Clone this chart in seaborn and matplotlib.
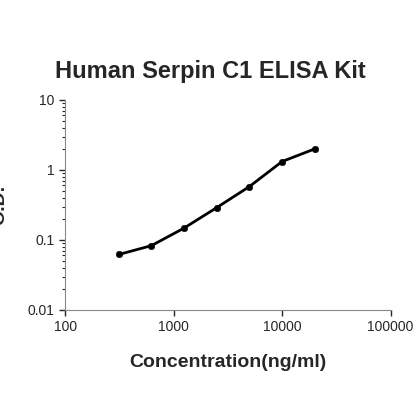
import matplotlib
matplotlib.use("Agg")
import matplotlib.pyplot as plt
import seaborn as sns
import pandas as pd
from matplotlib.ticker import LogLocator, FixedLocator, NullFormatter

sns.set_style("white")
plt.rcParams["font.family"] = ["Liberation Sans", "DejaVu Sans"]

# Standard curve values
conc = [312.5, 625, 1250, 2500, 5000, 10000, 20000]
od = [0.062, 0.083, 0.148, 0.29, 0.58, 1.32, 2.0]
df = pd.DataFrame({"conc": conc, "od": od})

fig = plt.figure(figsize=(4.2, 4.2), dpi=100)
ax = fig.add_axes([0.155, 0.262, 0.775, 0.5])

sns.lineplot(data=df, x="conc", y="od", ax=ax, color="black", linewidth=2)
sns.scatterplot(data=df, x="conc", y="od", ax=ax, color="black", s=22, edgecolor="black")

ax.set_xscale("log")
ax.set_yscale("log")
ax.set_xlim(100, 100000)
ax.set_ylim(0.01, 10)
ax.xaxis.set_major_locator(FixedLocator([100, 1000, 10000, 100000]))
ax.set_xticklabels(["100", "1000", "10000", "100000"])
ax.yaxis.set_major_locator(FixedLocator([0.01, 0.1, 1, 10]))
ax.set_yticklabels(["0.01", "0.1", "1", "10"])
ax.yaxis.set_minor_locator(LogLocator(base=10, subs=range(2, 10)))
ax.yaxis.set_minor_formatter(NullFormatter())
ax.xaxis.set_minor_locator(FixedLocator([]))
ax.tick_params(axis="both", which="major", direction="out", length=4, width=1, labelsize=10, left=True, bottom=True)
ax.tick_params(axis="y", which="minor", direction="out", length=2, width=0.8, left=True)

for s in ["top", "right"]:
    ax.spines[s].set_visible(False)
for s in ["left", "bottom"]:
    ax.spines[s].set_color("#888888")

ax.set_xlabel("Concentration(ng/ml)", fontsize=14, fontweight="bold", labelpad=14)
ax.set_ylabel("O.D.", fontsize=14, fontweight="bold", labelpad=14)
fig.text(0.5, 0.83, "Human Serpin C1 ELISA Kit", ha="center", va="center", fontsize=17, fontweight="bold")

fig.savefig("out.png", dpi=100)
